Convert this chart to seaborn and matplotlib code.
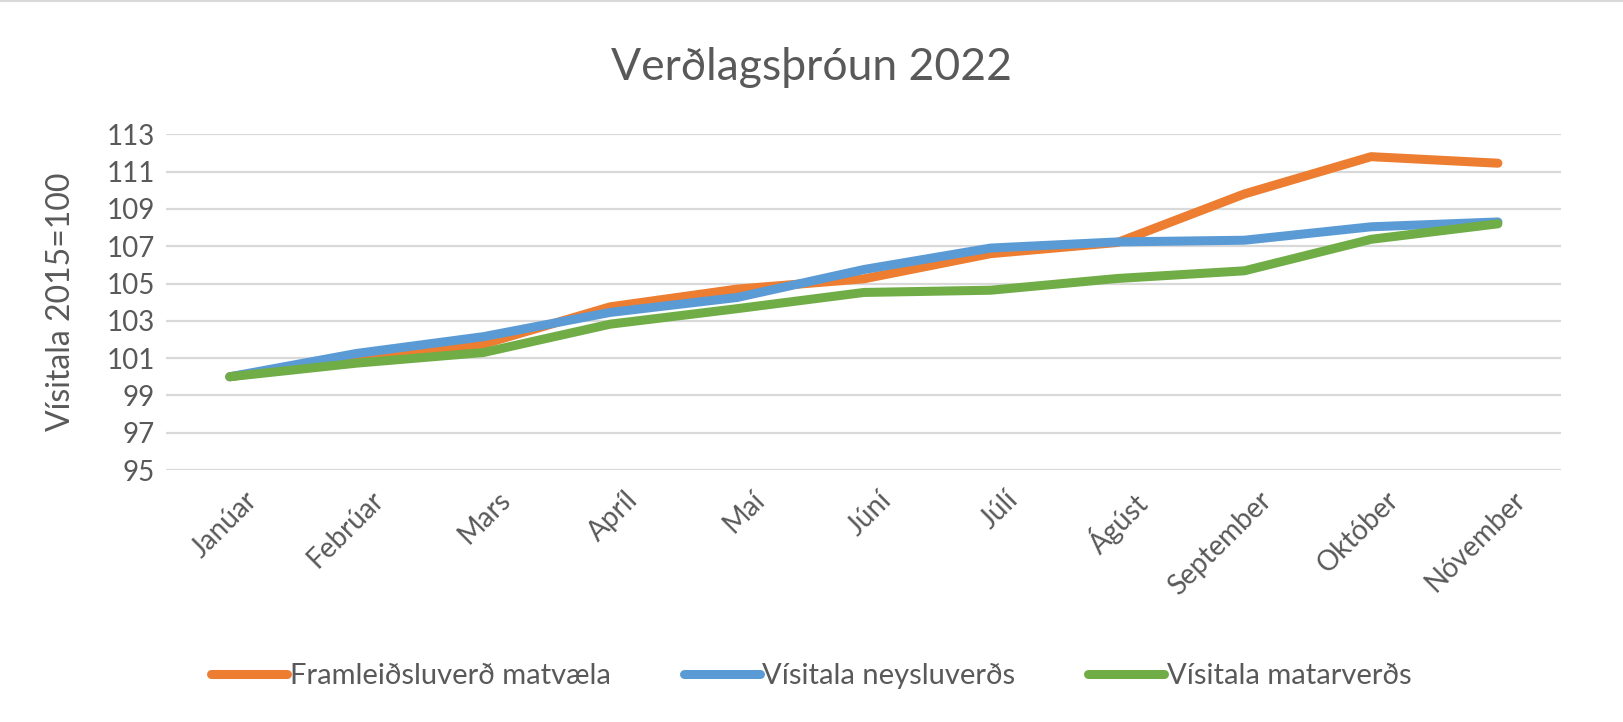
import pandas as pd
import seaborn as sns
import matplotlib.pyplot as plt
import matplotlib.transforms as mtransforms
from matplotlib.lines import Line2D

months = ["Janúar", "Febrúar", "Mars", "Apríl", "Maí", "Júní", "Júlí",
          "Ágúst", "September", "Október", "Nóvember"]
framleidsluverd = [100.0, 101.0, 101.75, 103.75, 104.7, 105.25, 106.6, 107.2, 109.8, 111.8, 111.45]
neysluverd = [100.0, 101.25, 102.15, 103.45, 104.25, 105.75, 106.9, 107.23, 107.32, 108.04, 108.3]
matarverd = [100.0, 100.73, 101.3, 102.82, 103.65, 104.52, 104.64, 105.27, 105.68, 107.37, 108.2]
series_names = ["Framleiðsluverð matvæla", "Vísitala neysluverðs", "Vísitala matarverðs"]
colors = ["#ED7D31", "#5B9BD5", "#70AD47"]

df = pd.DataFrame({
    "month": months * 3,
    "pos": list(range(len(months))) * 3,
    "value": framleidsluverd + neysluverd + matarverd,
    "series": [series_names[0]] * 11 + [series_names[1]] * 11 + [series_names[2]] * 11,
})

sns.set_theme(style="white")
plt.rcParams['font.family'] = ['Lato', 'DejaVu Sans']
text_col = "#595959"

fig = plt.figure(figsize=(16.23, 7.22), dpi=100)
ax = fig.add_axes([0.1025, 0.349, 0.8595, 0.465])
sns.lineplot(data=df, x="pos", y="value", hue="series", hue_order=series_names,
             palette=colors, linewidth=6.5, ax=ax, sort=False,
             solid_capstyle="round", solid_joinstyle="round")

ax.set_xlim(-0.5, len(months) - 0.5)
ax.set_ylim(95, 113)
ax.set_yticks(range(95, 114, 2))
ax.set_xticks(range(len(months)))
ax.set_xticklabels(months, rotation=45, ha="right", rotation_mode="anchor")
ax.tick_params(axis="y", colors=text_col, labelsize=20, length=0, pad=8)
ax.tick_params(axis="x", colors=text_col, labelsize=20, length=0, pad=12)
shift = mtransforms.ScaledTranslation(0.14, 0, fig.dpi_scale_trans)
for lab in ax.get_xticklabels():
    lab.set_transform(lab.get_transform() + shift)
ax.grid(axis="y", color="#D9D9D9", linewidth=1.6)
ax.set_axisbelow(True)
for s in ax.spines.values():
    s.set_visible(False)
ax.set_xlabel("")
ax.set_ylabel("Vísitala 2015=100", fontsize=23, color=text_col, labelpad=22)

fig.suptitle("Verðlagsþróun 2022", fontsize=32, color=text_col, y=0.935)

# thin chart border along the top edge
fig.add_artist(Line2D([0, 1], [0.999, 0.999], transform=fig.transFigure,
                      color="#D9D9D9", linewidth=1.5))

handles, labels = ax.get_legend_handles_labels()
ax.legend_.remove()
leg = fig.legend(handles, labels, loc="center", bbox_to_anchor=(0.5, 0.064), ncol=3,
                 frameon=False, fontsize=21, handlelength=2.6, handletextpad=0.1,
                 columnspacing=2.5)
for t in leg.get_texts():
    t.set_color(text_col)
for h in leg.get_lines():
    h.set_linewidth(6.5)

fig.savefig("out.png", dpi=100, facecolor="white")
